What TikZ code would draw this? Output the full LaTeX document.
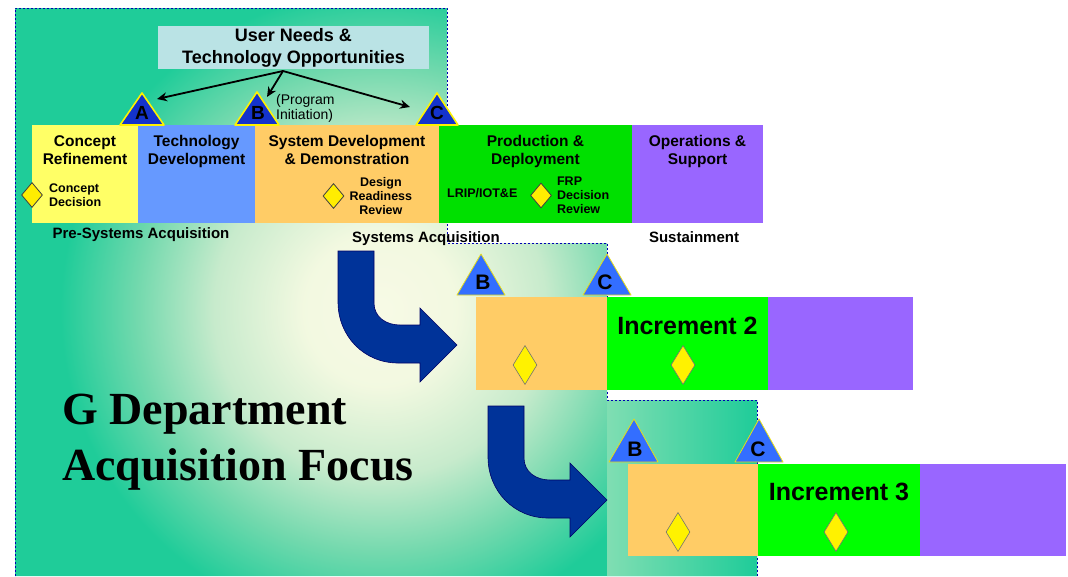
\documentclass[tikz,border=0pt]{standalone}
\usepackage{fontspec}
\setmainfont{Liberation Sans}
\newfontfamily\focusfont{Liberation Serif}
\usetikzlibrary{shapes.geometric, arrows, arrows.meta, positioning}
\definecolor{needsCyan}{RGB}{186,227,229}
\definecolor{crYellow}{RGB}{255,255,102}
\definecolor{tdBlue}{RGB}{102,153,255}
\definecolor{sddOrange}{RGB}{255,204,102}
\definecolor{pdGreen}{RGB}{0,224,0}
\definecolor{incGreen}{RGB}{0,255,0}
\definecolor{osPurple}{RGB}{153,102,255}
\definecolor{msDark}{RGB}{20,51,204}
\definecolor{msLight}{RGB}{51,110,255}
\definecolor{turnBlue}{RGB}{0,51,153}
\definecolor{panelTeal}{rgb}{0.12,0.80,0.60}
\definecolor{panelMint}{rgb}{0.50,0.87,0.70}
\pgfdeclareradialshading{glow}{\pgfpoint{0bp}{0bp}}{%
  rgb(0bp)=(0.97,0.98,0.90);
  rgb(3bp)=(0.95,0.975,0.88);
  rgb(6.5bp)=(0.78,0.92,0.80);
  rgb(9.5bp)=(0.45,0.85,0.68);
  rgb(12.5bp)=(0.12,0.80,0.60);
  rgb(50bp)=(0.12,0.80,0.60)}
\tikzstyle{phase} = [rectangle, inner sep=0pt, outer sep=0pt, minimum height=98pt]
\tikzstyle{increment} = [rectangle, inner sep=0pt, outer sep=0pt, minimum height=93pt]
\tikzstyle{title} = [align=center, inner sep=0pt, font=\bfseries\fontsize{15.5}{18}\selectfont]
\tikzstyle{inctitle} = [inner sep=0pt, font=\bfseries\fontsize{25}{25}\selectfont]
\tikzstyle{note} = [inner sep=0pt, font=\bfseries\fontsize{12.5}{14}\selectfont]
\tikzstyle{stage} = [inner sep=0pt, font=\bfseries\fontsize{15}{18}\selectfont]
\tikzstyle{review} = [diamond, draw=black!75, line width=0.8pt, fill=yellow!95!orange, inner sep=0pt, minimum width=21pt, minimum height=25pt]
\tikzstyle{gate} = [diamond, draw=black!55, line width=0.6pt, fill=yellow, inner sep=0pt, minimum width=24pt, minimum height=39pt]
\tikzstyle{milestone} = [fill=msDark, draw=yellow, line width=1.6pt, line join=round]
\tikzstyle{incmilestone} = [fill=msLight, draw=yellow!90!black, line width=0.8pt, line join=round]
\tikzstyle{letter} = [inner sep=0pt, font=\bfseries\fontsize{19}{19}\selectfont]
\tikzstyle{incletter} = [inner sep=0pt, font=\bfseries\fontsize{21}{21}\selectfont]
\tikzstyle{arrow} = [line width=1.8pt,-{Stealth[length=10pt,width=9pt]}]
\tikzstyle{turnarrow} = [fill=turnBlue, draw=black!60!blue, line width=0.6pt]

\begin{document}
\begin{tikzpicture}[x=1pt, y=-1pt]
\useasboundingbox (0,0) rectangle (1068,576);
\fill[white] (0,0) rectangle (1068,576);

% stepped background panel
\begin{scope}
\clip (15,8) -- (447,8) -- (447,243) -- (607,243) -- (607,400) -- (757,400) -- (757,576) -- (15,576) -- cycle;
\shade[shading=glow] (380,310) circle (640pt);
\shade[left color=panelMint, right color=panelTeal] (607,400) rectangle (757,576);
\end{scope}
\draw[blue!70!black, line width=0.6pt, dash pattern=on 2pt off 2pt] (15,576) -- (15,8) -- (447,8) -- (447,243) -- (607,243) -- (607,400) -- (757,400) -- (757,576);

\node (needs) [fill=needsCyan, minimum width=271pt, minimum height=43pt, align=center, inner sep=0pt, font=\bfseries\fontsize{18}{22}\selectfont] at (293.5,47.5) {User Needs \&\\Technology Opportunities};

% phases
\node (cr) [phase, fill=crYellow, minimum width=106pt, anchor=north west] at (32,125) {};
\node (td) [phase, fill=tdBlue, minimum width=117pt, right=0pt of cr] {};
\node (sdd) [phase, fill=sddOrange, minimum width=184pt, right=0pt of td] {};
\node (pd) [phase, fill=pdGreen, minimum width=193pt, right=0pt of sdd] {};
\node (os) [phase, fill=osPurple, minimum width=131pt, right=0pt of pd] {};

\node (crT) [title, below=10pt of cr.north] {Concept\\Refinement};
\node (tdT) [title, below=10pt of td.north] {Technology\\Development};
\node (sddT) [title, below=10pt of sdd.north] {System Development\\\& Demonstration};
\node (pdT) [title, below=10pt of pd.north] {Production \&\\Deployment};
\node (osT) [title, below=10pt of os.north] {Operations \&\\Support};

\node (cd) [review] at (32,195) {};
\node (cdT) [note, align=left, right=6pt of cd] {Concept\\Decision};
\node (drr) [review] at (333.5,196) {};
\node (drrT) [note, align=center, right=5pt of drr] {Design\\Readiness\\Review};
\node (lrip) [note, anchor=west] at (447,193) {LRIP/IOT\&E};
\node (frp) [review] at (541,195.5) {};
\node (frpT) [note, align=left, right=5pt of frp] {FRP\\Decision\\Review};

\node (pre) [stage, anchor=base] at (141,238) {Pre-Systems Acquisition};
\node (sys) [stage, anchor=base west] at (352,242) {Systems Acquisition};
\node (sus) [stage, anchor=base] at (694,242) {Sustainment};

% milestones
\draw[milestone] (120,125) -- (142,93) -- (164,125) -- cycle;
\node (msA) [letter] at (142,113) {A};
\draw[milestone] (235,125) -- (257,92) -- (279,125) -- cycle;
\node (msB) [letter] at (258,113) {B};
\draw[milestone] (416,125) -- (437,93) -- (458,125) -- cycle;
\node (msC) [letter] at (437,113) {C};

\node (prog) [anchor=west, align=left, inner sep=0pt, font=\fontsize{14}{15}\selectfont] at (276,108) {(Program\\Initiation)};

\coordinate (fan) at (283,71);
\coordinate (toA) at (157,99);
\coordinate (toB) at (267,97);
\coordinate (toC) at (410,107);
\draw [arrow] (fan) -- (toA);
\draw [arrow] (fan) -- (toB);
\draw [arrow] (fan) -- (toC);

% increment 2
\node (sdd2) [increment, fill=sddOrange, minimum width=131pt, anchor=north west] at (476,297) {};
\node (pd2) [increment, fill=incGreen, minimum width=161pt, right=0pt of sdd2] {};
\node (os2) [increment, fill=osPurple, minimum width=145pt, right=0pt of pd2] {};
\node (inc2) [inctitle, below=20pt of pd2.north] {Increment 2};
\node (g2a) [gate] at (525,365) {};
\node (g2b) [gate] at (683,365) {};
\draw[incmilestone] (457,295) -- (481,254) -- (505,295) -- cycle;
\node (ms2B) [incletter] at (483,282) {B};
\draw[incmilestone] (583,295) -- (607,254) -- (631,295) -- cycle;
\node (ms2C) [incletter] at (605,282) {C};

% increment 3
\node (sdd3) [increment, fill=sddOrange, minimum width=130pt, minimum height=92pt, anchor=north west] at (628,464) {};
\node (pd3) [increment, fill=incGreen, minimum width=162pt, minimum height=92pt, right=0pt of sdd3] {};
\node (os3) [increment, fill=osPurple, minimum width=146pt, minimum height=92pt, right=0pt of pd3] {};
\node (inc3) [inctitle, below=19pt of pd3.north] {Increment 3};
\node (g3a) [gate] at (678,532) {};
\node (g3b) [gate] at (836,532) {};
\draw[incmilestone] (609,462) -- (634,419) -- (658,462) -- cycle;
\node (ms3B) [incletter] at (635,449) {B};
\draw[incmilestone] (735,462) -- (759,419) -- (783,462) -- cycle;
\node (ms3C) [incletter] at (758,449) {C};

% turn arrows
\draw[turnarrow] (338,251) -- (374,251) -- (374,303) .. controls (374,317) and (386,325) .. (400,325) -- (420,325) -- (420,308) -- (457,345) -- (420,382) -- (420,363) -- (398,363) .. controls (364,363) and (338,336) .. (338,302) -- cycle;
\draw[turnarrow, shift={(150,155)}] (338,251) -- (374,251) -- (374,303) .. controls (374,317) and (386,325) .. (400,325) -- (420,325) -- (420,308) -- (457,345) -- (420,382) -- (420,363) -- (398,363) .. controls (364,363) and (338,336) .. (338,302) -- cycle;

\node (focus) [anchor=north west, align=left, inner sep=0pt, font=\focusfont\bfseries\fontsize{46}{56}\selectfont] at (62,394) {G Department\\Acquisition Focus};

\end{tikzpicture}
\end{document}
